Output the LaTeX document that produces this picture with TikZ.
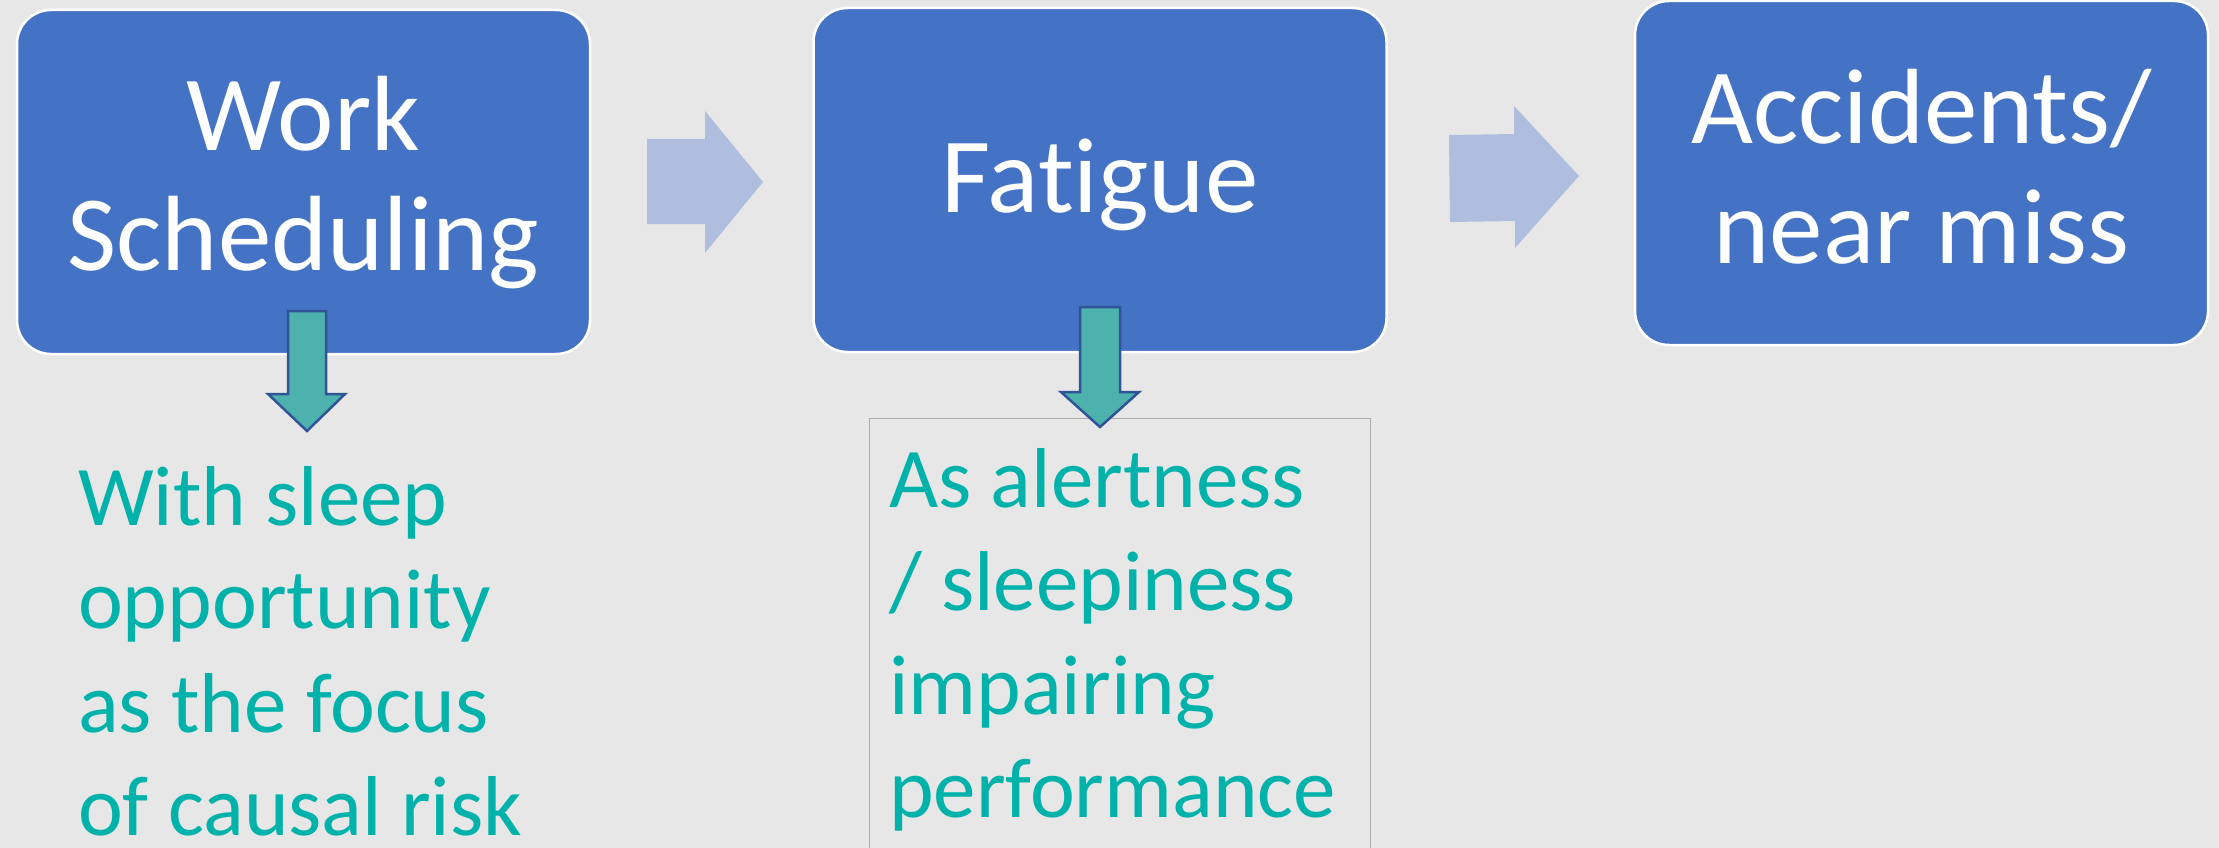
\documentclass[tikz,border=0pt]{standalone}
\usepackage{fontspec}
\setmainfont{Carlito}[Ligatures=NoCommon]
\definecolor{pagegray}{HTML}{E7E7E7}
\definecolor{boxblue}{HTML}{4472C4}
\definecolor{flowarrow}{HTML}{AFBDDF}
\definecolor{dropfill}{HTML}{4DB1AE}
\definecolor{dropline}{HTML}{2F5597}
\definecolor{noteteal}{HTML}{00B2A9}
\definecolor{frameline}{HTML}{ABABAB}
\begin{document}
\begin{tikzpicture}[x=1pt,y=-1pt,
  stepbox/.style={draw=white, line width=2.5pt, fill=boxblue, rounded corners=34pt,
    inner sep=0pt, minimum width=573pt, minimum height=344pt, text=white,
    font=\fontsize{107}{120}\selectfont},
  notetext/.style={inner sep=0pt, anchor=base west, text=noteteal,
    font=\fontsize{85}{103.5}\selectfont},
  flow/.style={fill=flowarrow},
  drop/.style={fill=dropfill, draw=dropline, line width=2.5pt, line join=miter}
]
% page
\useasboundingbox (0,0) rectangle (2219,848);
\fill[pagegray] (0,0) rectangle (2219,848);
\clip (0,0) rectangle (2219,848);

% main chain of boxes
\node[stepbox, text height=100pt, text depth=164pt] (sched) at (303.5,182)
  {\begin{tabular}[t]{@{}c@{}}Work\\Scheduling\end{tabular}};
\node[stepbox, text height=100pt, text depth=36pt] (fatigue) at (1100,180)
  {\begin{tabular}[t]{@{}c@{}}Fatigue\end{tabular}};
\node[stepbox, text height=100pt, text depth=160pt] (accid) at (1921.5,173)
  {\begin{tabular}[t]{@{}c@{}}Accidents/\\near miss\end{tabular}};

% block arrows between the boxes
\fill[flow] (647,139) -- (705,139) -- (705,111) -- (763,182) -- (705,253)
  -- (705,224) -- (647,224) -- cycle;
\fill[flow] (1449,135) -- (1514,134) -- (1514,106) -- (1579,176) -- (1515,248)
  -- (1515,221) -- (1450,222) -- cycle;

% framed note under Fatigue
\node[draw=frameline, line width=1.2pt, inner sep=0pt, anchor=north west,
  minimum width=501pt, minimum height=480pt] (noteframe) at (869,418) {};

% drop arrows from the boxes to their notes
\path[drop] (288,311) -- (326,311) -- (326,394) -- (345,394) -- (307,431)
  -- (268,394) -- (288,394) -- cycle;
\path[drop] (1080,307) -- (1120,307) -- (1120,392) -- (1139,392) -- (1100,427)
  -- (1061,392) -- (1080,392) -- cycle;

% notes
\node[notetext] (note1) at (78,525)
  {\begin{tabular}[t]{@{}l@{}}With sleep\\opportunity\\as the focus\\of causal risk\end{tabular}};
\node[notetext] (note2) at (889,507)
  {\begin{tabular}[t]{@{}l@{}}As alertness\\/ sleepiness\\impairing\\performance\end{tabular}};
\end{tikzpicture}
\end{document}
